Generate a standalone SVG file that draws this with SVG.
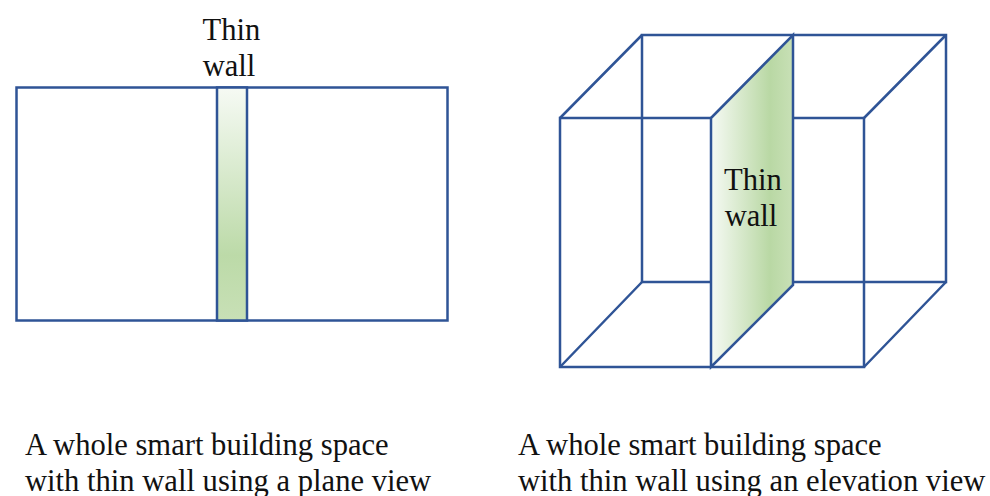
<svg xmlns="http://www.w3.org/2000/svg" width="990" height="496" viewBox="0 0 990 496">
<style>
.l{fill:none;stroke:#2f5496;stroke-width:2.5;stroke-linejoin:miter}
.t{font-family:"Liberation Serif","Times New Roman",serif;font-size:30.6px;fill:#111}
</style>
<defs>
<linearGradient id="gv" x1="0" y1="0" x2="0" y2="1"><stop offset="0" stop-color="#f6faf4"/><stop offset="0.72" stop-color="#bcdaa8"/><stop offset="1" stop-color="#c8e0b6"/></linearGradient>
<linearGradient id="gh" x1="0" y1="0" x2="1" y2="0"><stop offset="0" stop-color="#f6faf4"/><stop offset="0.72" stop-color="#b9d8a4"/><stop offset="1" stop-color="#c8e0b6"/></linearGradient>
</defs>
<rect width="990" height="496" fill="#fff"/>
<g id="plane-view">
<rect class="l" x="16.500" y="87.500" width="431" height="233"/>
<rect class="l" style="fill:url(#gv)" x="217" y="87.500" width="30" height="233"/>
<text class="t" x="231.500" y="40" text-anchor="middle">Thin</text>
<text class="t" x="229" y="76" text-anchor="middle">wall</text>
</g>
<g id="elevation-view">
<path class="l" d="M642 35H946V282H642Z"/>
<path class="l" d="M560 118H864V367H560Z"/>
<path class="l" d="M560 118L642 35M864 118L946 35M864 367L946 282M560 367L642 282"/>
<path class="l" style="fill:url(#gh)" d="M711 118L793 35V285L711 367Z"/>
<text class="t" x="753" y="190" text-anchor="middle">Thin</text>
<text class="t" x="751" y="226" text-anchor="middle">wall</text>
</g>
<g id="captions">
<text class="t" x="25" y="455">A whole smart building space</text>
<text class="t" x="25" y="491">with thin wall using a plane view</text>
<text class="t" x="518" y="455">A whole smart building space</text>
<text class="t" x="518" y="491">with thin wall using an elevation view</text>
</g>
</svg>
